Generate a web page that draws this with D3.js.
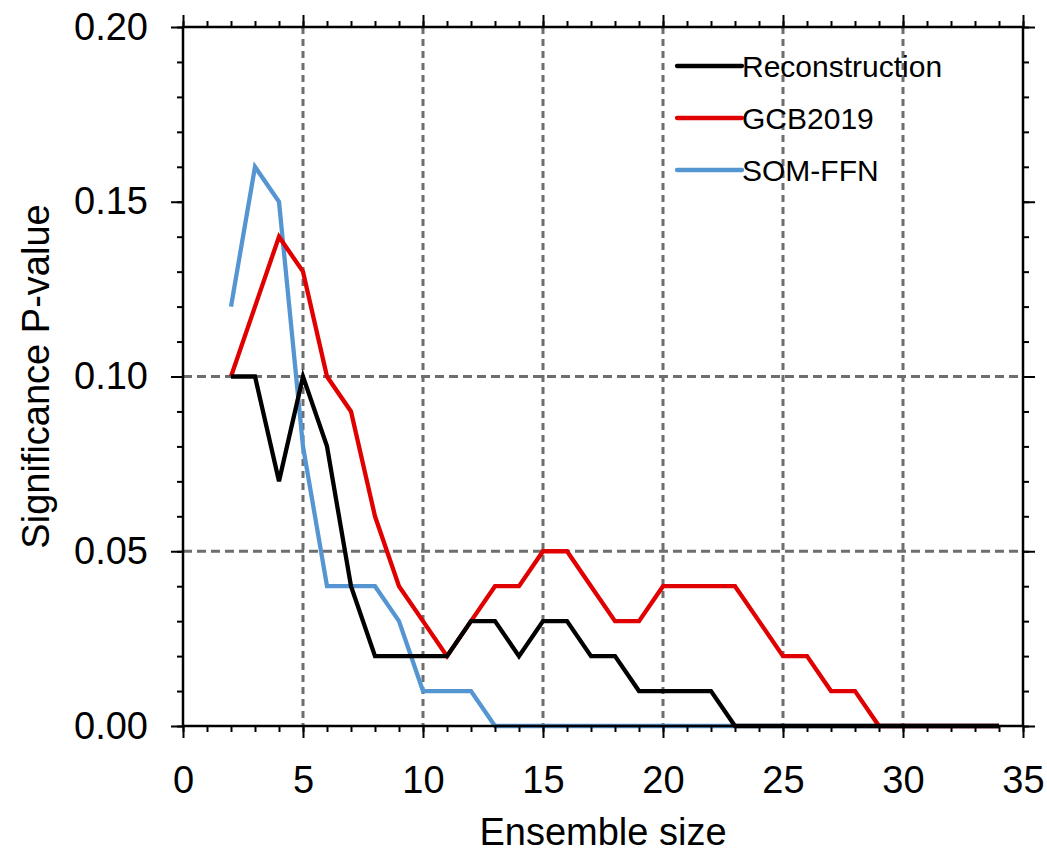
<!DOCTYPE html>
<html>
<head>
<meta charset="utf-8">
<script src="https://cdn.jsdelivr.net/npm/d3@7"></script>
<style>
  body { margin: 0; background: #fff; }
  svg { display: block; font-family: "Liberation Sans", Arial, Helvetica, sans-serif; }
</style>
</head>
<body>
<script>
// ensemble sizes 2..34
const sizes = [2,3,4,5,6,7,8,9,10,11,12,13,14,15,16,17,18,19,20,21,22,23,24,25,26,27,28,29,30,31,32,33,34];

const reconstruction = [0.10,0.10,0.07,0.10,0.08,0.04,0.02,0.02,0.02,0.02,0.03,0.03,0.02,0.03,0.03,0.02,0.02,0.01,0.01,0.01,0.01,0,0,0,0,0,0,0,0,0,0,0,0];
const gcb2019 =        [0.10,0.12,0.14,0.13,0.10,0.09,0.06,0.04,0.03,0.02,0.03,0.04,0.04,0.05,0.05,0.04,0.03,0.03,0.04,0.04,0.04,0.04,0.03,0.02,0.02,0.01,0.01,0,0,0,0,0,0];
const somffn =         [0.12,0.16,0.15,0.08,0.04,0.04,0.04,0.03,0.01,0.01,0.01,0,0,0,0,0,0,0,0,0,0,0,0,0,0,0,0,0,0,0,0,0,0];

const xTicks = [0,5,10,15,20,25,30,35];
const yTicks = [0,0.05,0.10,0.15,0.20];
const xGrid = [5,10,15,20,25,30];
const yGrid = [0.05,0.10];

const series = [
  {name: "SOM-FFN", values: somffn, color: "#5596d2"},
  {name: "GCB2019", values: gcb2019, color: "#e00000"},
  {name: "Reconstruction", values: reconstruction, color: "#000000"}
];
const legendOrder = ["Reconstruction", "GCB2019", "SOM-FFN"];

const W = 1047, H = 852;
const margin = {top: 27, right: 24, bottom: 126, left: 183};
const width = W - margin.left - margin.right,
      height = H - margin.top - margin.bottom;

const svg = d3.select("body").append("svg")
    .attr("width", W)
    .attr("height", H);

const g = svg.append("g")
    .attr("transform", `translate(${margin.left},${margin.top})`);

const x = d3.scaleLinear().domain([0, 35]).range([0, width]);
const y = d3.scaleLinear().domain([0, 0.20]).range([height, 0]);

// grid
g.selectAll(".vgrid")
    .data(xGrid)
    .enter().append("line")
    .attr("x1", d => x(d)).attr("x2", d => x(d))
    .attr("y1", 0).attr("y2", height)
    .attr("stroke", "#6e6e6e")
    .attr("stroke-width", 3)
    .attr("stroke-dasharray", "7,5");

g.selectAll(".hgrid")
    .data(yGrid)
    .enter().append("line")
    .attr("x1", 0).attr("x2", width)
    .attr("y1", d => y(d)).attr("y2", d => y(d))
    .attr("stroke", "#6e6e6e")
    .attr("stroke-width", 3)
    .attr("stroke-dasharray", "9,5");

// lines
const line = d3.line()
    .x((d, i) => x(sizes[i]))
    .y(d => y(d));

series.forEach(s => {
  g.append("path")
      .datum(s.values)
      .attr("fill", "none")
      .attr("stroke", s.color)
      .attr("stroke-width", 4.3)
      .attr("d", line);
});

// axes: major + minor ticks on all four sides, pointing out
const minorX = d3.range(0, 36, 1);
const minorY = d3.range(0, 0.2001, 0.01);

function styleAxis(sel) {
  sel.select(".domain").remove();
  sel.selectAll(".tick line").attr("stroke", "#000").attr("stroke-width", 2);
  sel.selectAll("text").attr("fill", "#000");
}

g.append("g")
    .attr("transform", `translate(0,${height})`)
    .call(d3.axisBottom(x).tickValues(minorX).tickSize(6).tickFormat(""))
    .call(styleAxis);
g.append("g")
    .attr("transform", `translate(0,${height})`)
    .call(d3.axisBottom(x).tickValues(xTicks).tickSize(12).tickPadding(28).tickFormat(d3.format("d")))
    .call(styleAxis)
    .selectAll("text").style("font-size", "38px");

g.append("g")
    .call(d3.axisTop(x).tickValues(minorX).tickSize(6).tickFormat(""))
    .call(styleAxis);
g.append("g")
    .call(d3.axisTop(x).tickValues(xTicks).tickSize(12).tickFormat(""))
    .call(styleAxis);

g.append("g")
    .call(d3.axisLeft(y).tickValues(minorY).tickSize(6).tickFormat(""))
    .call(styleAxis);
g.append("g")
    .call(d3.axisLeft(y).tickValues(yTicks).tickSize(12).tickPadding(23).tickFormat(d3.format(".2f")))
    .call(styleAxis)
    .selectAll("text").style("font-size", "38px");

g.append("g")
    .attr("transform", `translate(${width},0)`)
    .call(d3.axisRight(y).tickValues(minorY).tickSize(6).tickFormat(""))
    .call(styleAxis);
g.append("g")
    .attr("transform", `translate(${width},0)`)
    .call(d3.axisRight(y).tickValues(yTicks).tickSize(12).tickFormat(""))
    .call(styleAxis);

// frame
g.append("rect")
    .attr("width", width)
    .attr("height", height)
    .attr("fill", "none")
    .attr("stroke", "#000")
    .attr("stroke-width", 2.5);

// legend
const legend = g.append("g").attr("transform", `translate(${677 - margin.left},${66 - margin.top})`);
legendOrder.forEach((name, i) => {
  const s = series.find(d => d.name === name);
  legend.append("line")
      .attr("x1", 0).attr("x2", 65)
      .attr("y1", i * 52).attr("y2", i * 52)
      .attr("stroke", s.color)
      .attr("stroke-width", 4.3)
      .attr("stroke-linecap", "round");
  legend.append("text")
      .attr("x", 65)
      .attr("y", i * 52 + 10.7)
      .style("font-size", "30px")
      .text(name);
});

// axis titles
svg.append("text")
    .attr("x", margin.left + width / 2)
    .attr("y", 845)
    .attr("text-anchor", "middle")
    .style("font-size", "38px")
    .text("Ensemble size");

svg.append("text")
    .attr("transform", `translate(49,${margin.top + height / 2}) rotate(-90)`)
    .attr("text-anchor", "middle")
    .style("font-size", "38px")
    .text("Significance P-value");
</script>
</body>
</html>
